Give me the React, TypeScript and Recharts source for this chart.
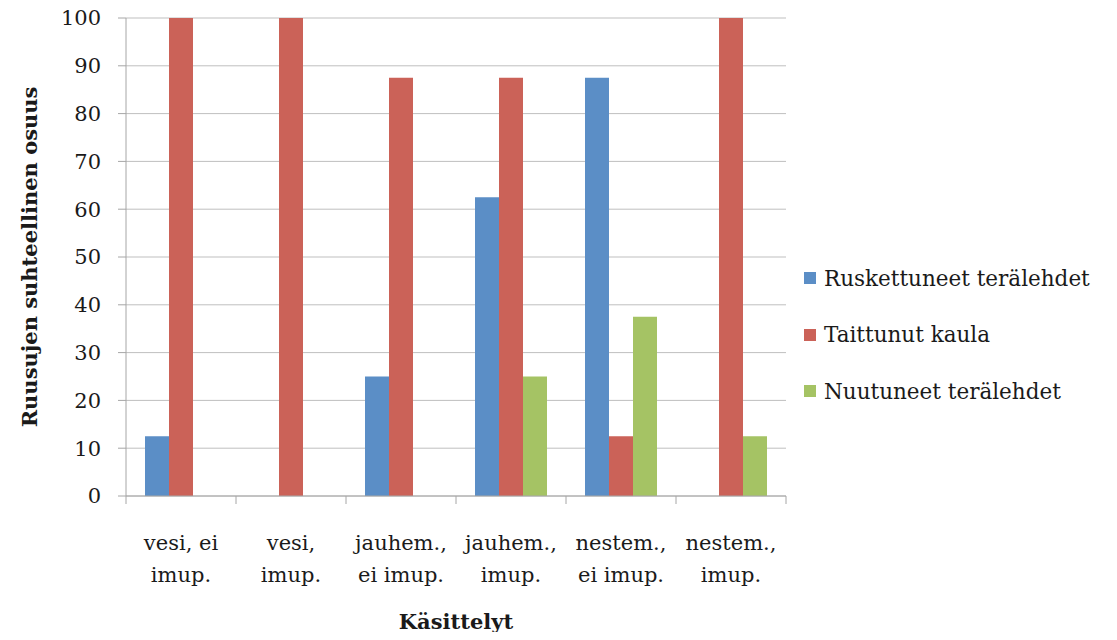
import React from 'react';
import { BarChart, Bar, XAxis, YAxis, CartesianGrid, Legend } from 'recharts';

// treatments along the x axis, each label split over two lines
const categories = [
  ['vesi, ei', 'imup.'],
  ['vesi,', 'imup.'],
  ['jauhem.,', 'ei imup.'],
  ['jauhem.,', 'imup.'],
  ['nestem.,', 'ei imup.'],
  ['nestem.,', 'imup.'],
];

const ruskettuneet = [12.5, 0, 25, 62.5, 87.5, 0];
const taittunut = [100, 100, 87.5, 87.5, 12.5, 100];
const nuutuneet = [0, 0, 0, 25, 37.5, 12.5];

const yTicks = [0, 10, 20, 30, 40, 50, 60, 70, 80, 90, 100];

const series = [
  { key: 'ruskettuneet', name: 'Ruskettuneet terälehdet', color: '#5B8EC6' },
  { key: 'taittunut', name: 'Taittunut kaula', color: '#CB6258' },
  { key: 'nuutuneet', name: 'Nuutuneet terälehdet', color: '#A5C364' },
];

const data = categories.map((c, i) => ({
  name: c.join(' '),
  ruskettuneet: ruskettuneet[i],
  taittunut: taittunut[i],
  nuutuneet: nuutuneet[i],
}));

const FONT = '"DejaVu Serif", serif';
const AXIS = '#A6A6A6';
const INK = '#1a1a1a';

// two-line label, plus tick marks on the band edges instead of the centre
const CategoryTick = (props: any) => {
  const { x, y, payload } = props;
  const half = payload.offset ?? 0;
  const lines = categories[payload.index] || [];
  const last = payload.index === categories.length - 1;
  return (
    <g transform={`translate(${x},${y})`}>
      <line x1={-half} x2={-half} y1={0} y2={8} stroke={AXIS} />
      {last && <line x1={half} x2={half} y1={0} y2={8} stroke={AXIS} />}
      {lines.map((t, i) => (
        <text key={i} x={0} y={54 + i * 32} textAnchor="middle" fontFamily={FONT} fontSize={21} fill={INK}>
          {t}
        </text>
      ))}
    </g>
  );
};

const LegendBox = () => (
  <div style={{ fontFamily: FONT, fontSize: 21.5, color: INK }}>
    {series.map((s) => (
      <div key={s.key} style={{ display: 'flex', alignItems: 'center', height: 56.5 }}>
        <span style={{ width: 12, height: 12, background: s.color, marginRight: 8 }} />
        <span>{s.name}</span>
      </div>
    ))}
  </div>
);

export default function App() {
  return (
    <div style={{ margin: -8, background: '#fff' }}>
      <BarChart
        width={1117}
        height={640}
        data={data}
        margin={{ top: 18, right: 331, bottom: 0, left: 0 }}
        barSize={24}
        barGap={0}
      >
        <CartesianGrid vertical={false} stroke="#BFBFBF" />
        <XAxis
          dataKey="name"
          height={144}
          axisLine={{ stroke: AXIS }}
          tickLine={false}
          tickSize={0}
          tickMargin={0}
          interval={0}
          tick={<CategoryTick />}
          label={{
            value: 'Käsittelyt',
            position: 'center',
            dy: 54,
            style: { fontFamily: FONT, fontSize: 21, fontWeight: 'bold', fill: INK },
          }}
        />
        <YAxis
          width={126}
          domain={[0, 100]}
          ticks={yTicks}
          interval={0}
          axisLine={{ stroke: AXIS }}
          tickLine={{ stroke: AXIS }}
          tickSize={8}
          tickMargin={17}
          tick={{ fontFamily: FONT, fontSize: 21, fill: INK }}
          label={{
            value: 'Ruusujen suhteellinen osuus',
            angle: -90,
            position: 'center',
            dx: -33,
            style: { fontFamily: FONT, fontSize: 21, fontWeight: 'bold', fill: INK, textAnchor: 'middle' },
          }}
        />
        <Legend
          layout="horizontal"
          verticalAlign="middle"
          content={<LegendBox />}
          wrapperStyle={{ left: 804, top: 250, width: 313 }}
        />
        {series.map((s) => (
          <Bar key={s.key} dataKey={s.key} name={s.name} fill={s.color} isAnimationActive={false} />
        ))}
      </BarChart>
    </div>
  );
}
